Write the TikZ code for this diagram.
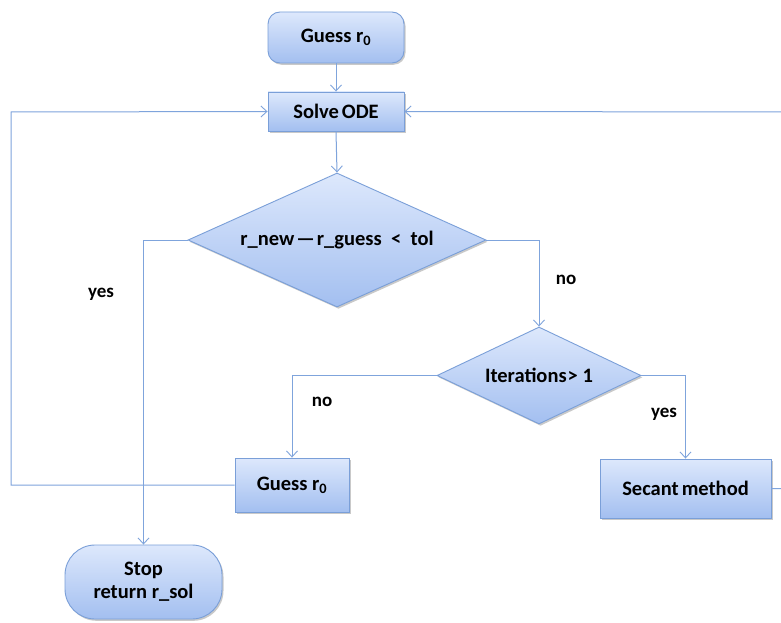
\documentclass[tikz,border=0pt]{standalone}
\usepackage{fontspec}
\setmainfont{Carlito}
\usetikzlibrary{shapes.geometric,arrows.meta,shadows}
\definecolor{edgeblue}{HTML}{7A9FD8}
\definecolor{topfill}{HTML}{DDE8FC}
\definecolor{botfill}{HTML}{A3BFF0}
\definecolor{lineblue}{HTML}{7FA4DC}
\tikzset{
  boxbase/.style={draw=edgeblue, line width=0.9pt, top color=topfill, bottom color=botfill,
    font=\bfseries\fontsize{20.5}{23}\selectfont, inner sep=0pt, align=center,
    drop shadow={shadow xshift=1.5pt, shadow yshift=-1.8pt, opacity=0.35, fill=black!60}},
  procbox/.style={boxbase, rectangle},
  roundbox/.style={boxbase, rectangle, rounded corners=12pt},
  termbox/.style={boxbase, rectangle, rounded corners=30pt},
  decbox/.style={boxbase, diamond},
  conn/.style={draw=lineblue, line width=1pt},
  arr/.style={conn, -{Straight Barb[length=6pt, width=11pt, line width=0.9pt]}},
  lbl/.style={font=\bfseries\fontsize{19}{22}\selectfont}
}
\begin{document}
\begin{tikzpicture}[x=1pt, y=-1pt]
\useasboundingbox (0,0) rectangle (781,623);
\fill[white] (0,0) rectangle (781,623);

\node[roundbox, minimum width=136pt, minimum height=51pt] (guess0) at (336,37.5) {Guess r\textsubscript{0}};
\node[procbox, minimum width=136pt, minimum height=39pt] (solve) at (336,111.5) {Solve\kern3pt ODE};
\node[decbox, minimum width=298pt, minimum height=134pt, aspect=2.2] (conv) at (337,240) {r\_new\kern2pt---\kern2pt r\_guess\ \ <\ \ tol};
\node[decbox, minimum width=204pt, minimum height=97pt, aspect=2.1] (iter) at (539,375.5) {Iterations\kern1pt> 1};
\node[procbox, minimum width=114pt, minimum height=54pt] (guess1) at (292,485) {Guess r\textsubscript{0}};
\node[procbox, minimum width=171pt, minimum height=59pt] (secant) at (685.5,488.5) {Secant\kern3pt method};
\node[termbox, minimum width=157pt, minimum height=74pt] (stop) at (143.5,582) {Stop\\return r\_sol};

\coordinate (lc) at (11,485);
\coordinate (lt) at (11,112);
\coordinate (rc) at (800,488.5);
\coordinate (rt) at (800,112);

\draw[arr] (guess0.south) -- (solve.north);
\draw[arr] (solve.south) -- (conv.north);
\draw[arr] (conv.west) -| (stop.north);
\draw[arr] (conv.east) -| (iter.north);
\draw[arr] (iter.west) -| (guess1.north);
\draw[arr] (iter.east) -| (secant.north);
\draw[arr] (guess1.west) -- (lc) -- (lt) -- (solve.west);
\draw[arr] (secant.east) -- (rc) -- (rt) -- (solve.east);

\node[lbl] (yes1) at (101,294) {yes};
\node[lbl] (no1) at (566,280) {no};
\node[lbl] (no2) at (322,402) {no};
\node[lbl] (yes2) at (664,414) {yes};
\end{tikzpicture}
\end{document}
